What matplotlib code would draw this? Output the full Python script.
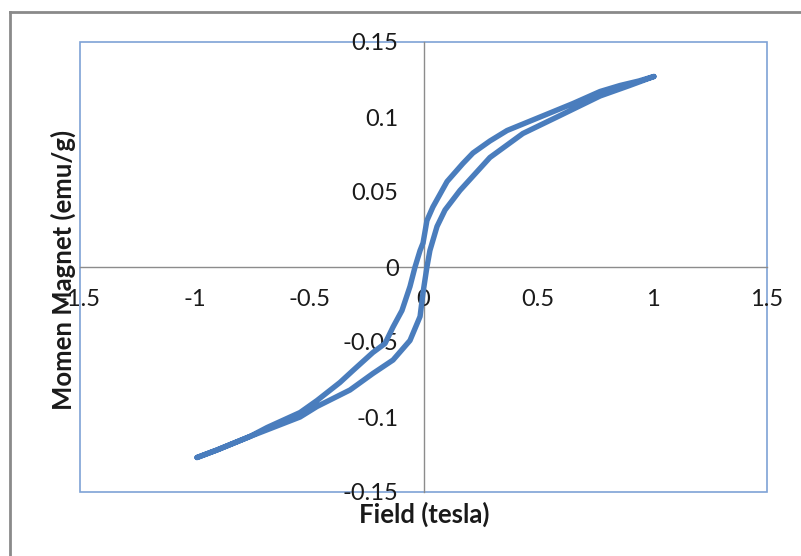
import matplotlib
matplotlib.use("Agg")
import matplotlib.pyplot as plt
from matplotlib.lines import Line2D
from matplotlib.patches import Rectangle

# Descending branch (field from +1 to -1)
desc_field = [1.006, 0.94, 0.858, 0.771, 0.653, 0.509, 0.365, 0.29, 0.216, 0.172, 0.103,
              0.041, 0.015, -0.002, -0.015, -0.037, -0.059, -0.094, -0.133, -0.168,
              -0.221, -0.308, -0.365, -0.465, -0.539, -0.683, -0.758, -0.902, -0.989]
desc_moment = [0.127, 0.124, 0.121, 0.117, 0.109, 0.100, 0.091, 0.084, 0.076, 0.069, 0.057,
               0.040, 0.031, 0.016, 0.011, 0.000, -0.013, -0.029, -0.040, -0.051,
               -0.057, -0.069, -0.077, -0.089, -0.097, -0.107, -0.113, -0.122, -0.127]

# Ascending branch (field from -1 to +1)
asc_field = [-0.989, -0.902, -0.758, -0.539, -0.465, -0.321, -0.221, -0.133, -0.059,
             -0.015, -0.002, 0.015, 0.028, 0.059, 0.094, 0.159, 0.290, 0.434, 0.583,
             0.771, 0.90, 1.006]
asc_moment = [-0.127, -0.122, -0.113, -0.100, -0.093, -0.082, -0.071, -0.062, -0.049,
              -0.033, -0.017, 0.000, 0.011, 0.027, 0.038, 0.051, 0.073, 0.089, 0.100,
              0.114, 0.121, 0.127]

x_ticks = [-1.5, -1, -0.5, 0, 0.5, 1, 1.5]
x_tick_labels = ["-1.5", "-1", "-0.5", "0", "0.5", "1", "1.5"]
y_ticks = [-0.15, -0.1, -0.05, 0, 0.05, 0.1, 0.15]
y_tick_labels = ["-0.15", "-0.1", "-0.05", "0", "0.05", "0.1", "0.15"]

x_label = "Field (tesla)"
y_label = "Momen Magnet (emu/g)"

plt.rcParams['font.family'] = ['Lato', 'DejaVu Sans']

W, H = 801, 556
fig = plt.figure(figsize=(W / 100, H / 100), dpi=100)
ax = fig.add_axes([80 / W, 1 - 492 / H, 687 / W, 450 / H])

line_color = '#4a7dbd'
ax.plot(desc_field + asc_field, desc_moment + asc_moment, color=line_color,
        lw=3.9, solid_capstyle='round', solid_joinstyle='round', zorder=5)

ax.set_xlim(-1.5, 1.5)
ax.set_ylim(-0.15, 0.15)

for s in ['top', 'right']:
    ax.spines[s].set_visible(False)
ax.spines['left'].set_position('zero')
ax.spines['bottom'].set_position('zero')
for s in ['left', 'bottom']:
    ax.spines[s].set_color('#8c8c8c')
    ax.spines[s].set_linewidth(1.0)
    ax.spines[s].set_zorder(1)

ax.set_xticks(x_ticks)
ax.set_xticklabels(x_tick_labels)
ax.set_yticks(y_ticks)
ax.set_yticklabels(y_tick_labels)
ax.tick_params(axis='x', length=0, pad=16, labelsize=17, colors='#1a1a1a')
ax.tick_params(axis='y', length=0, pad=18, labelsize=17, colors='#1a1a1a')

# plot-area frame
ax.add_patch(Rectangle((0, 0), 1, 1, transform=ax.transAxes, fill=False,
                       edgecolor='#7ea2d6', lw=1.2, zorder=0, clip_on=False))

fig.text(424 / W, 1 - 514 / H, x_label, ha='center', va='center',
         fontsize=18.5, fontweight='bold', color='#1a1a1a')
fig.text(63 / W, 1 - 270 / H, y_label, ha='center', va='center', rotation=90,
         fontsize=18.5, fontweight='bold', color='#1a1a1a')

# outer chart border (partially visible)
fig.add_artist(Line2D([10 / W, 10 / W], [0, 1 - 12 / H], color='#8a8a8a', lw=2))
fig.add_artist(Line2D([10 / W, 1], [1 - 12 / H, 1 - 12 / H], color='#8a8a8a', lw=2))

fig.savefig("out.png", dpi=100)
